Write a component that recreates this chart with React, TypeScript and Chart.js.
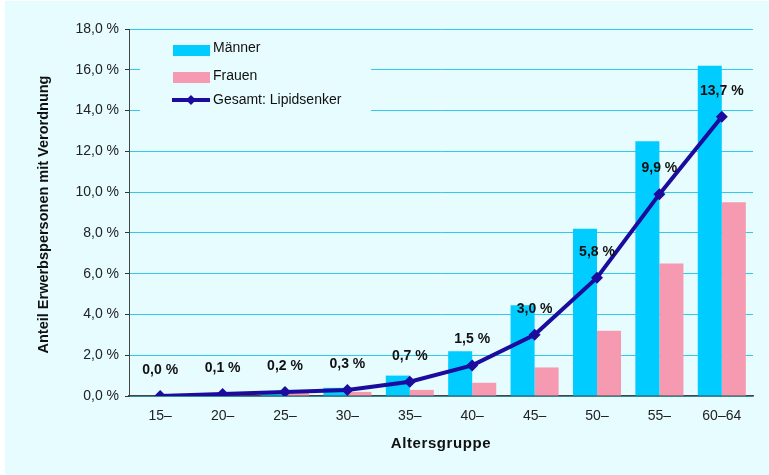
import React, { useEffect, useRef } from "react";
import { Chart, registerables } from "chart.js";

Chart.register(...registerables);

const categories = ["15–", "20–", "25–", "30–", "35–", "40–", "45–", "50–", "55–", "60–64"];
const maenner = [0.0, 0.02, 0.15, 0.4, 1.0, 2.2, 4.45, 8.2, 12.5, 16.2];
const frauen = [0.0, 0.02, 0.2, 0.2, 0.3, 0.65, 1.4, 3.2, 6.5, 9.5];
const gesamt = [0.0, 0.1, 0.2, 0.3, 0.7, 1.5, 3.0, 5.8, 9.9, 13.7];

const C_M = "#00CCFF";
const C_F = "#F59AB0";
const C_L = "#1B0C9E";
const BG = "#E6FCFF";
const FONT = "'Liberation Sans', Arial, sans-serif";

const fmt = (v: number) => v.toFixed(1).replace(".", ",") + " %";

const customPlugin = {
  id: "custom",
  beforeDraw(chart: any) {
    const ctx = chart.ctx;
    ctx.save();
    ctx.fillStyle = "#FFFFFF";
    ctx.fillRect(0, 0, chart.width, chart.height);
    ctx.fillStyle = BG;
    ctx.fillRect(5, 1, chart.width - 5, chart.height - 1);
    ctx.restore();
  },
  beforeDatasetsDraw(chart: any) {
    const ctx = chart.ctx;
    ctx.save();
    ctx.fillStyle = BG;
    ctx.fillRect(140, 34, 231, 86);
    ctx.restore();
  },
  afterDraw(chart: any) {
    const ctx = chart.ctx;
    const area = chart.chartArea;
    ctx.save();
    const meta = chart.getDatasetMeta(2);
    ctx.font = `bold 14px ${FONT}`;
    ctx.fillStyle = "#111111";
    ctx.textAlign = "center";
    ctx.textBaseline = "middle";
    meta.data.forEach((pt: any, i: number) => {
      ctx.fillText(fmt(gesamt[i]), pt.x, pt.y - 26);
    });
    // legend
    ctx.textAlign = "left";
    ctx.font = `14px ${FONT}`;
    ctx.fillStyle = C_M;
    ctx.fillRect(173, 45, 37, 11);
    ctx.fillStyle = C_F;
    ctx.fillRect(173, 72, 37, 11);
    ctx.strokeStyle = C_L;
    ctx.lineWidth = 4;
    ctx.beginPath();
    ctx.moveTo(172, 100);
    ctx.lineTo(210, 100);
    ctx.stroke();
    ctx.fillStyle = C_L;
    ctx.beginPath();
    ctx.moveTo(191, 95);
    ctx.lineTo(196, 100);
    ctx.lineTo(191, 105);
    ctx.lineTo(186, 100);
    ctx.closePath();
    ctx.fill();
    ctx.fillStyle = "#111111";
    ctx.fillText("Männer", 213, 48);
    ctx.fillText("Frauen", 213, 76);
    ctx.fillText("Gesamt: Lipidsenker", 213, 100);
    // axis titles
    ctx.font = `bold 15px ${FONT}`;
    ctx.textAlign = "center";
    try { (ctx as any).letterSpacing = "0.6px"; } catch (e) {}
    ctx.fillText("Altersgruppe", (area.left + area.right) / 2, 444);
    try { (ctx as any).letterSpacing = "0px"; } catch (e) {}
    ctx.font = `bold 14.5px ${FONT}`;
    ctx.translate(44, (area.top + area.bottom) / 2 + 2);
    ctx.rotate(-Math.PI / 2);
    ctx.fillText("Anteil Erwerbspersonen mit Verordnung", 0, 0);
    ctx.restore();
  },
};

export default function App() {
  const ref = useRef<HTMLCanvasElement>(null);
  useEffect(() => {
    if (!ref.current) return;
    const chart = new Chart(ref.current, {
      type: "bar",
      data: {
        labels: categories,
        datasets: [
          {
            type: "bar",
            label: "Männer",
            data: maenner,
            backgroundColor: C_M,
            borderWidth: 0,
            order: 1,
            barPercentage: 1,
            categoryPercentage: 0.77,
          },
          {
            type: "bar",
            label: "Frauen",
            data: frauen,
            backgroundColor: C_F,
            borderWidth: 0,
            order: 1,
            barPercentage: 1,
            categoryPercentage: 0.77,
          },
          {
            type: "line",
            label: "Gesamt: Lipidsenker",
            data: gesamt,
            borderColor: C_L,
            backgroundColor: C_L,
            borderWidth: 4,
            pointStyle: "rectRot",
            pointRadius: 6,
            pointBackgroundColor: C_L,
            pointBorderWidth: 0,
            tension: 0,
            order: 0,
          },
        ],
      },
      options: {
        animation: false,
        responsive: false,
        maintainAspectRatio: false,
        layout: { padding: { left: 0, right: 16, top: 29, bottom: 0 } },
        plugins: { legend: { display: false }, tooltip: { enabled: false } },
        scales: {
          x: {
            grid: { display: false, drawTicks: false },
            border: { display: true, color: "#444444", width: 1.5 },
            ticks: { color: "#222222", font: { family: FONT, size: 14 }, padding: 12, maxRotation: 0 },
            afterFit: (s: any) => {
              s.height = 79;
            },
          },
          y: {
            min: 0,
            max: 18,
            ticks: {
              stepSize: 2,
              color: "#222222",
              font: { family: FONT, size: 14 },
              padding: 6,
              callback: (v: any) => fmt(Number(v)),
            },
            grid: { color: "#2FCBEF", lineWidth: 1, tickLength: 4, tickColor: "#333333", drawTicks: true },
            border: { display: true, color: "#444444", width: 1 },
            afterFit: (s: any) => {
              s.width = 129;
            },
          },
        },
      },
      plugins: [customPlugin],
    } as any);
    return () => chart.destroy();
  }, []);
  return (
    <div style={{ position: "fixed", left: 0, top: 0, width: 769, height: 475 }}>
      <canvas ref={ref} width={769} height={475} style={{ display: "block" }} />
    </div>
  );
}
